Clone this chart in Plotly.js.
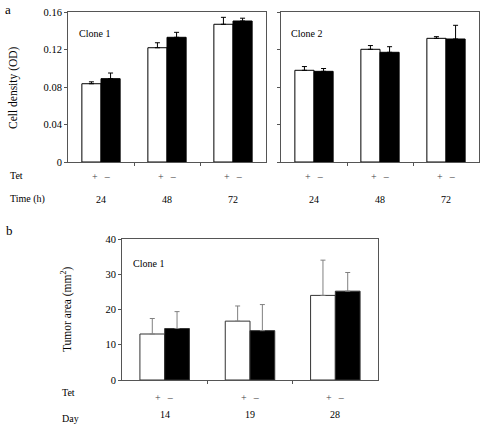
<!DOCTYPE html>
<html><head><meta charset="utf-8">
<script src="https://cdn.plot.ly/plotly-3.0.1.min.js"></script>
<style>html,body{margin:0;padding:0;background:#fff}</style>
</head><body>
<div id="chart" style="width:481px;height:424px"></div>
<script>
// Panel a: cell density (OD)
const timesA = ['24', '48', '72'];
const clone1Plus = [0.0835, 0.1219, 0.1469];
const clone1PlusErr = [0.002, 0.0053, 0.0074];
const clone1Minus = [0.0889, 0.133, 0.1504];
const clone1MinusErr = [0.006, 0.0053, 0.003];
const clone2Plus = [0.0978, 0.1202, 0.1319];
const clone2PlusErr = [0.004, 0.004, 0.0018];
const clone2Minus = [0.0967, 0.117, 0.1312];
const clone2MinusErr = [0.003, 0.006, 0.0146];
const yTicksA = [0, 0.04, 0.08, 0.12, 0.16];
const yTickTextA = ['0', '0.04', '0.08', '0.12', '0.16'];
// Panel b: tumor area (mm2)
const daysB = ['14', '19', '28'];
const tumorPlus = [13.05, 16.7, 24.0];
const tumorPlusErr = [4.4, 4.3, 10.0];
const tumorMinus = [14.6, 14.0, 25.2];
const tumorMinusErr = [4.8, 7.4, 5.3];
const yTicksB = [0, 10, 20, 30, 40];
const tetSigns = '+\u2002\u2009\u2013';

const W = 481, H = 424;
const px = x => x / W, py = y => 1 - y / H;
const FONT = 'Liberation Serif';

function bar(cats, vals, errs, fill, xa, ya, errColor, lineColor) {
  return {
    type: 'bar', x: cats.map((_, i) => i), y: vals, xaxis: xa, yaxis: ya,
    marker: {color: fill, line: {color: lineColor, width: 1}},
    error_y: {type: 'data', symmetric: false, array: errs, arrayminus: errs.map(() => 0),
              color: errColor, thickness: 1, width: 2.5},
    showlegend: false, hoverinfo: 'skip'
  };
}

const traces = [
  bar(timesA, clone1Plus, clone1PlusErr, '#fff', 'x', 'y', '#000', '#000'),
  bar(timesA, clone1Minus, clone1MinusErr, '#000', 'x', 'y', '#000', '#000'),
  bar(timesA, clone2Plus, clone2PlusErr, '#fff', 'x2', 'y2', '#000', '#000'),
  bar(timesA, clone2Minus, clone2MinusErr, '#000', 'x2', 'y2', '#000', '#000'),
  bar(daysB, tumorPlus, tumorPlusErr, '#fff', 'x3', 'y3', '#808080', '#333'),
  bar(daysB, tumorMinus, tumorMinusErr, '#000', 'x3', 'y3', '#808080', '#333')
];

const xBase = {range: [-0.5, 2.5], showline: true, mirror: true, linecolor: '#555', linewidth: 1,
  tickmode: 'array', tickvals: [0.5, 1.5], ticks: 'outside', ticklen: 3, tickcolor: '#555',
  showticklabels: false, showgrid: false, zeroline: false, fixedrange: true};
const yBaseA = {range: [0, 0.16], showline: true, mirror: true, linecolor: '#555', linewidth: 1,
  tickmode: 'array', tickvals: yTicksA, ticktext: yTickTextA, ticks: 'outside', ticklen: 3,
  tickcolor: '#555', showgrid: false, zeroline: false, tickfont: {family: FONT, size: 10.5, color: '#000'},
  fixedrange: true};

const annotations = [];
function ann(text, x, y, xref, opts) {
  annotations.push(Object.assign({text: text, x: x, y: y, xref: xref || 'paper', yref: 'paper',
    showarrow: false, font: {family: FONT, size: 10, color: '#000'},
    xanchor: 'center', yanchor: 'middle'}, opts || {}));
}
// panel letters
ann('a', px(8), py(9), 'paper', {font: {family: FONT, size: 13, color: '#000'}});
ann('b', px(9), py(231), 'paper', {font: {family: FONT, size: 13, color: '#000'}});
// y titles
ann('Cell density (OD)', px(14), py(88), 'paper', {textangle: -90, font: {family: FONT, size: 11.5, color: '#000'}});
ann('Tumor area (mm<sup>2</sup>)', px(66), py(309), 'paper', {textangle: -90, font: {family: FONT, size: 11.5, color: '#000'}});
// clone labels
ann('Clone 1', px(77), py(33), 'paper', {xanchor: 'left'});
ann('Clone 2', px(289), py(33), 'paper', {xanchor: 'left'});
ann('Clone 1', px(131), py(263), 'paper', {xanchor: 'left'});
// row labels
ann('Tet', px(8), py(175), 'paper', {xanchor: 'left'});
ann('Time (h)', px(8), py(199), 'paper', {xanchor: 'left'});
ann('Tet', px(60), py(392), 'paper', {xanchor: 'left'});
ann('Day', px(60), py(418), 'paper', {xanchor: 'left'});
// group labels
timesA.forEach((t, i) => {
  ann(tetSigns, i, py(176), 'x', {font: {family: FONT, size: 10, color: '#444'}});
  ann(t, i, py(199), 'x');
  ann(tetSigns, i, py(176), 'x2', {font: {family: FONT, size: 10, color: '#444'}});
  ann(t, i, py(199), 'x2');
});
daysB.forEach((d, i) => {
  ann(tetSigns, i, py(397), 'x3', {font: {family: FONT, size: 10, color: '#444'}});
  ann(d, i, py(414), 'x3');
});

const layout = {
  width: W, height: H, margin: {l: 0, r: 0, t: 0, b: 0},
  paper_bgcolor: '#fff', plot_bgcolor: '#fff',
  barmode: 'group', bargap: 0.42, bargroupgap: 0,
  font: {family: FONT, color: '#000'},
  xaxis: Object.assign({}, xBase, {domain: [px(68), px(266)], anchor: 'y'}),
  yaxis: Object.assign({}, yBaseA, {domain: [py(162), py(12)], anchor: 'x'}),
  xaxis2: Object.assign({}, xBase, {domain: [px(281), px(479)], anchor: 'y2'}),
  yaxis2: Object.assign({}, yBaseA, {domain: [py(162), py(12)], anchor: 'x2', showticklabels: false}),
  xaxis3: Object.assign({}, xBase, {domain: [px(122), px(378)], anchor: 'y3'}),
  yaxis3: Object.assign({}, yBaseA, {domain: [py(380), py(239)], anchor: 'x3', range: [0, 40],
    tickvals: yTicksB, ticktext: yTicksB.map(String)}),
  annotations: annotations
};

Plotly.newPlot('chart', traces, layout, {staticPlot: true, displayModeBar: false});
</script>
</body></html>
